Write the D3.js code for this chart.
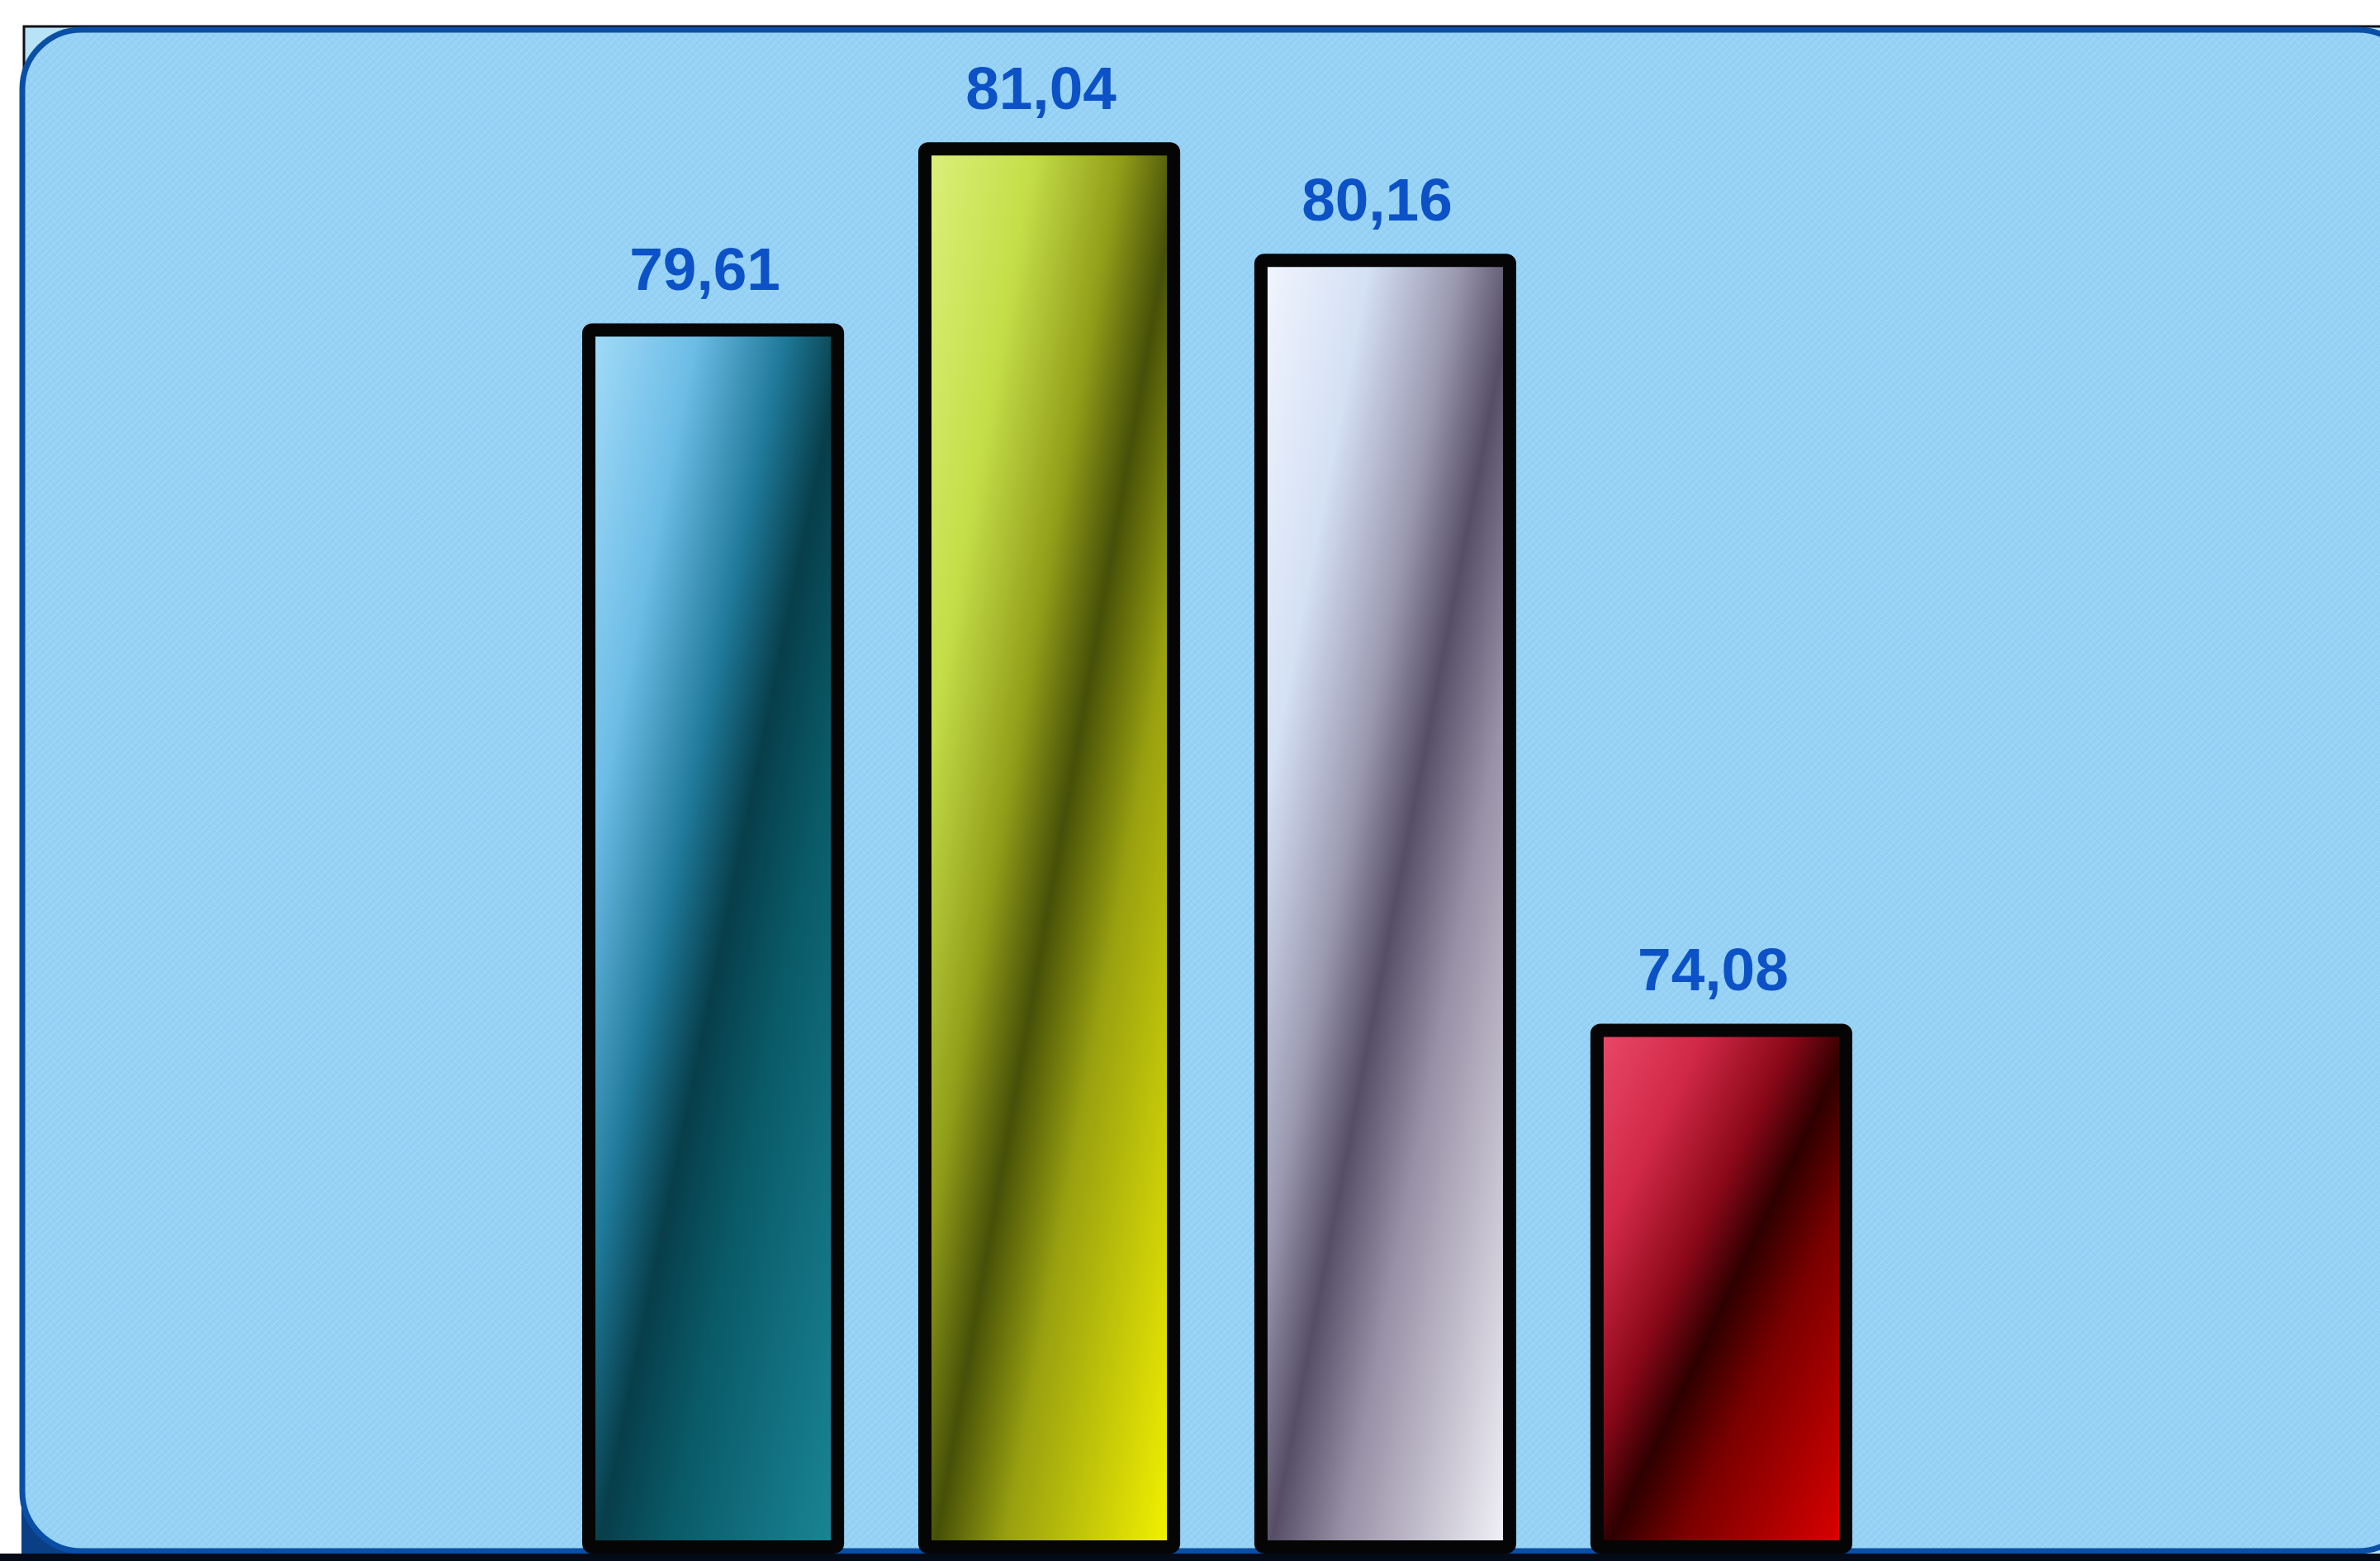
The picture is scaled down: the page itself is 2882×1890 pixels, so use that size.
<!DOCTYPE html>
<html>
<head>
<meta charset="utf-8">
<script src="https://cdn.jsdelivr.net/npm/d3@7/dist/d3.min.js"></script>
<style>
  html, body { margin: 0; padding: 0; background: #ffffff; }
  svg { display: block; }
</style>
</head>
<body>
<script>
// ---- data ----
const categories = ["1", "2", "3", "4"];
const values = [79.61, 81.04, 80.16, 74.08];
const valueLabels = ["79,61", "81,04", "80,16", "74,08"];
const yDomain = [70, 82];

// ---- styles ----
const W = 2882, H = 1890;
const gradients = [
  [[0, "#a4dcf8"], [0.22, "#6cbce6"], [0.4, "#1e7898"], [0.52, "#073e4a"], [0.66, "#0a5a68"], [1, "#1a8696"]],
  [[0, "#dcf07c"], [0.22, "#c4de48"], [0.4, "#909c18"], [0.52, "#465008"], [0.66, "#98a010"], [1, "#f6f400"]],
  [[0, "#f2f6fe"], [0.22, "#d4e0f4"], [0.4, "#9a98b0"], [0.52, "#564e66"], [0.66, "#9890a6"], [1, "#f4f4fa"]],
  [[0, "#ea4a6a"], [0.22, "#d02846"], [0.4, "#8a0818"], [0.52, "#2e0000"], [0.66, "#7a0000"], [1, "#de0000"]]
];

const svg = d3.select("body").append("svg")
  .attr("width", W).attr("height", H);

const defs = svg.append("defs");
gradients.forEach((stops, i) => {
  const g = defs.append("linearGradient")
    .attr("id", "grad" + i)
    .attr("x1", 0).attr("y1", 0).attr("x2", 1).attr("y2", 1);
  stops.forEach(s => g.append("stop").attr("offset", s[0]).attr("stop-color", s[1]));
});

// subtle texture
const pat = defs.append("pattern").attr("id", "tex")
  .attr("width", 9).attr("height", 9).attr("patternUnits", "userSpaceOnUse");
pat.append("path").attr("d", "M0,9 L9,0").attr("stroke", "#b0e0fa").attr("stroke-width", 1.2).attr("opacity", 0.55);
pat.append("path").attr("d", "M0,0 L9,9").attr("stroke", "#80c2e8").attr("stroke-width", 1).attr("opacity", 0.35);

// ---- frame ----
svg.append("rect")
  .attr("x", 29).attr("y", 32).attr("width", 2900).attr("height", 1900)
  .attr("fill", "#b8e2f6").attr("stroke", "#101018").attr("stroke-width", 3);
svg.append("rect")
  .attr("x", 26).attr("y", 1790).attr("width", 140).attr("height", 100)
  .attr("fill", "#0a3f86");
svg.append("rect")
  .attr("x", 27).attr("y", 36).attr("width", 2900).attr("height", 1842)
  .attr("rx", 72).attr("ry", 72)
  .attr("fill", "#95d1f5").attr("stroke", "#0a4fa6").attr("stroke-width", 7);
svg.append("rect")
  .attr("x", 31).attr("y", 40).attr("width", 2890).attr("height", 1834)
  .attr("rx", 68).attr("ry", 68)
  .attr("fill", "url(#tex)");
svg.append("rect")
  .attr("x", 0).attr("y", 1881).attr("width", W).attr("height", 9)
  .attr("fill", "#050a18");

// ---- scales ----
const x = d3.scaleBand()
  .domain(categories)
  .range([713, 2235])
  .paddingInner(0.26)
  .paddingOuter(0);

const y = d3.scaleLinear()
  .domain(yDomain)
  .range([1873, 33]);

// ---- bars ----
svg.append("g").selectAll("rect")
  .data(values)
  .join("rect")
  .attr("x", (d, i) => x(categories[i]))
  .attr("y", d => y(d))
  .attr("width", x.bandwidth())
  .attr("height", d => y(yDomain[0]) - y(d))
  .attr("rx", 4)
  .attr("fill", (d, i) => "url(#grad" + i + ")")
  .attr("stroke", "#050505")
  .attr("stroke-width", 16)
  .attr("stroke-linejoin", "round");

// ---- value labels ----
svg.append("g").selectAll("text")
  .data(values)
  .join("text")
  .attr("x", (d, i) => x(categories[i]) + x.bandwidth() / 2 - 10)
  .attr("y", d => y(d) - 48)
  .attr("text-anchor", "middle")
  .attr("font-family", "'Liberation Sans', Arial, sans-serif")
  .attr("font-weight", "bold")
  .attr("font-size", 73)
  .attr("fill", "#0c52c6")
  .text((d, i) => valueLabels[i]);
</script>
</body>
</html>
